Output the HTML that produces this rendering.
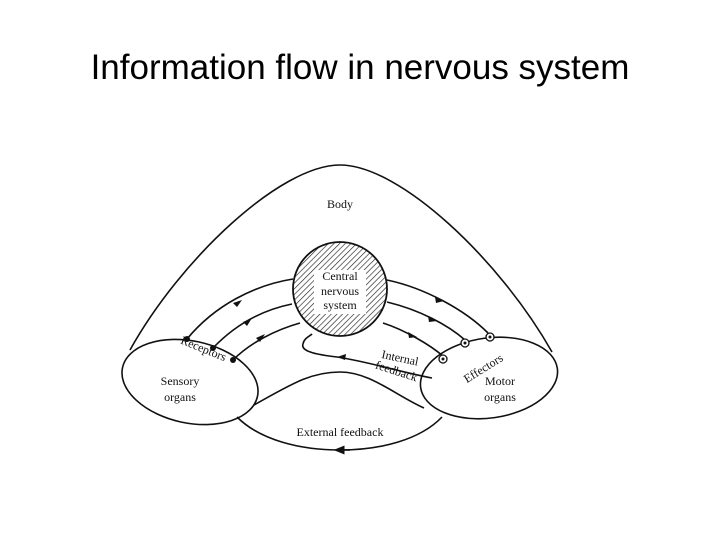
<!DOCTYPE html>
<html><head><style>
body{margin:0;background:#fff;width:720px;height:540px;overflow:hidden;font-family:"Liberation Sans",sans-serif}
h1{position:absolute;top:48px;left:0;width:720px;text-align:center;font-weight:normal;font-size:35px;margin:0;color:#000}
svg{position:absolute;left:0;top:0}
text{font-family:"Liberation Serif",serif;font-size:12px;fill:#111}
</style></head><body>
<h1>Information flow in nervous system</h1>
<svg width="720" height="540" viewBox="0 0 720 540">
<defs>
<pattern id="h" width="4" height="4" patternUnits="userSpaceOnUse" patternTransform="rotate(45)"><rect width="4" height="4" fill="#fff"/><line x1="0" y1="0" x2="0" y2="4" stroke="#222" stroke-width="1.3"/></pattern>
<marker id="a" viewBox="0 0 10 10" refX="5" refY="5" markerWidth="7" markerHeight="7" orient="auto"><path d="M0,1 L10,5 L0,9 z" fill="#111"/></marker>
</defs>
<g fill="none" stroke="#111" stroke-width="1.6">
<!-- body outline -->
<path d="M130,350 C180,260 280,165 340,165 C400,165 500,260 552,352"/>
<!-- sensory ellipse -->
<ellipse cx="190" cy="382" rx="69" ry="41" transform="rotate(12 190 382)"/>
<!-- motor ellipse -->
<ellipse cx="489" cy="378" rx="69" ry="40" transform="rotate(-8 489 378)"/>
<!-- middle body curve -->
<path d="M254,405 C290,385 310,372 340,372 C370,372 395,395 424,408"/>
<!-- external feedback -->
<path d="M237,417 C260,440 300,450 340,450 C380,450 420,440 442,417"/>
<path d="M350,450 L339,450" marker-end="url(#a)"/>
<!-- left arcs -->
<path d="M187,339 C215,305 255,285 293,279"/>
<path d="M213,348 C235,325 262,310 292,304"/>
<path d="M233,360 C250,343 275,330 300,323"/>
<!-- right arcs -->
<path d="M387,280 C425,288 465,310 488,333"/>
<path d="M387,302 C420,310 448,325 465,340"/>
<path d="M383,323 C405,330 430,345 443,356"/>
<!-- internal feedback -->
<path d="M432,378 C400,372 370,362 337,357 C320,355 300,352 303,344 C304,338 310,336 312,334"/>
</g>
<g fill="#111">
<path d="M242,300 l-9,3 l4,4 z"/><path d="M252,318 l-9,4 l4,4 z"/><path d="M265,334 l-9,4 l4,4 z"/>
<path d="M444,301 l-9,-4 l1,6 z"/><path d="M437,321 l-9,-5 l1,6 z"/><path d="M417,337 l-9,-5 l1,6 z"/>
<path d="M337,357 l9,-3 l-1,6 z"/>
<circle cx="187" cy="339" r="3"/><circle cx="213" cy="348" r="3"/><circle cx="233" cy="360" r="3"/>
</g>
<g fill="#fff" stroke="#111" stroke-width="1.3">
<circle cx="490" cy="337" r="4"/><circle cx="465" cy="343" r="4"/><circle cx="443" cy="359" r="4"/>
</g>
<g fill="#111"><circle cx="490" cy="337" r="1.5"/><circle cx="465" cy="343" r="1.5"/><circle cx="443" cy="359" r="1.5"/></g>
<circle cx="340" cy="289" r="47" fill="url(#h)" stroke="#111" stroke-width="1.8"/>
<rect x="314" y="270" width="52" height="44" fill="#fff"/>
<text x="340" y="280" text-anchor="middle">Central</text>
<text x="340" y="295" text-anchor="middle">nervous</text>
<text x="340" y="309" text-anchor="middle">system</text>
<text x="340" y="208" text-anchor="middle">Body</text>
<text x="175" y="352" transform="rotate(22 200 360)">Receptors</text>
<text x="180" y="385" text-anchor="middle">Sensory</text>
<text x="180" y="401" text-anchor="middle">organs</text>
<text x="500" y="385" text-anchor="middle">Motor</text>
<text x="500" y="401" text-anchor="middle">organs</text>
<text x="455" y="378" transform="rotate(-32 470 360)">Effectors</text>
<text x="380" y="362" transform="rotate(12 400 365)">Internal</text>
<text x="372" y="375" transform="rotate(18 395 380)">feedback</text>
<text x="340" y="436" text-anchor="middle">External feedback</text>
</svg>
</body></html>
